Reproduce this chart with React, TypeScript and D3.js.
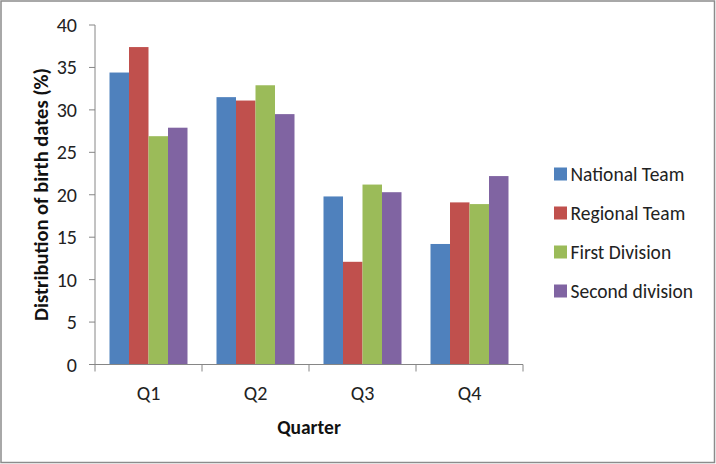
import React from "react";
import * as d3 from "d3";

const quarters = ["Q1", "Q2", "Q3", "Q4"];
const seriesNames = ["National Team", "Regional Team", "First Division", "Second division"];
const nationalTeam = [34.4, 31.5, 19.8, 14.2];
const regionalTeam = [37.4, 31.1, 12.1, 19.1];
const firstDivision = [26.9, 32.9, 21.2, 18.9];
const secondDivision = [27.9, 29.5, 20.3, 22.2];
const yTicks = [0, 5, 10, 15, 20, 25, 30, 35, 40];
const colors = ["#4F81BD", "#C0504D", "#9BBB59", "#8064A2"];

const W = 716, H = 464;
const FONT = "Carlito, Calibri, 'Open Sans', 'Liberation Sans', sans-serif";

export default function App() {
  const series = [nationalTeam, regionalTeam, firstDivision, secondDivision];
  const left = 95, right = 523, top = 25, bottom = 364.5;
  const x = d3.scaleBand<string>().domain(quarters).range([left, right]).paddingInner(0).paddingOuter(0);
  const inner = d3.scaleBand<string>().domain(seriesNames).range([0, 78]).padding(0);
  const groupOffset = (x.bandwidth() - 78) / 2;
  const y = d3.scaleLinear().domain([0, 40]).range([bottom, top]);
  const axisColor = "#868686";

  return (
    <svg width={W} height={H} style={{ position: "absolute", left: 0, top: 0, background: "#fff" }} fontFamily={FONT}>
      <rect x={1} y={1} width={W - 2.5} height={H - 2.5} fill="#fff" stroke="#8c8c8c" strokeWidth={1.5} />
      {/* bars */}
      {quarters.map((q, qi) =>
        series.map((s, si) => (
          <rect
            key={q + si}
            x={(x(q) as number) + groupOffset + (inner(seriesNames[si]) as number)}
            y={y(s[qi])}
            width={inner.bandwidth()}
            height={y(0) - y(s[qi])}
            fill={colors[si]}
          />
        ))
      )}
      {/* y axis */}
      <line x1={left} x2={left} y1={top} y2={bottom} stroke={axisColor} />
      {yTicks.map((t) => (
        <g key={t}>
          <line x1={left - 6} x2={left} y1={y(t)} y2={y(t)} stroke={axisColor} />
          <text x={77} y={y(t)} dy="0.35em" textAnchor="end" fontSize={20} fill="#222">
            {t}
          </text>
        </g>
      ))}
      {/* x axis */}
      <line x1={left} x2={right} y1={bottom} y2={bottom} stroke={axisColor} />
      {[...quarters.map((q) => x(q) as number), right].map((v, i) => (
        <line key={i} x1={v} x2={v} y1={bottom} y2={bottom + 7} stroke={axisColor} />
      ))}
      {quarters.map((q) => (
        <text key={q} x={(x(q) as number) + x.bandwidth() / 2} y={393} dy="0.35em" textAnchor="middle" fontSize={20} fill="#222">
          {q}
        </text>
      ))}
      <text x={309} y={427} dy="0.35em" textAnchor="middle" fontSize={19.5} fontWeight="bold" fill="#111">
        Quarter
      </text>
      <text
        transform={`translate(41, 194.5) rotate(-90)`}
        textAnchor="middle"
        dy="0.35em"
        fontSize={20.5}
        fontWeight="bold"
        fill="#111"
      >
        Distribution of birth dates (%)
      </text>
      {/* legend */}
      {seriesNames.map((n, i) => (
        <g key={n} transform={`translate(554, ${174 + i * 39})`}>
          <rect x={0} y={-6.5} width={13} height={13} fill={colors[i]} />
          <text x={16.5} y={0} dy="0.35em" fontSize={19.5} fill="#222">
            {n}
          </text>
        </g>
      ))}
    </svg>
  );
}
